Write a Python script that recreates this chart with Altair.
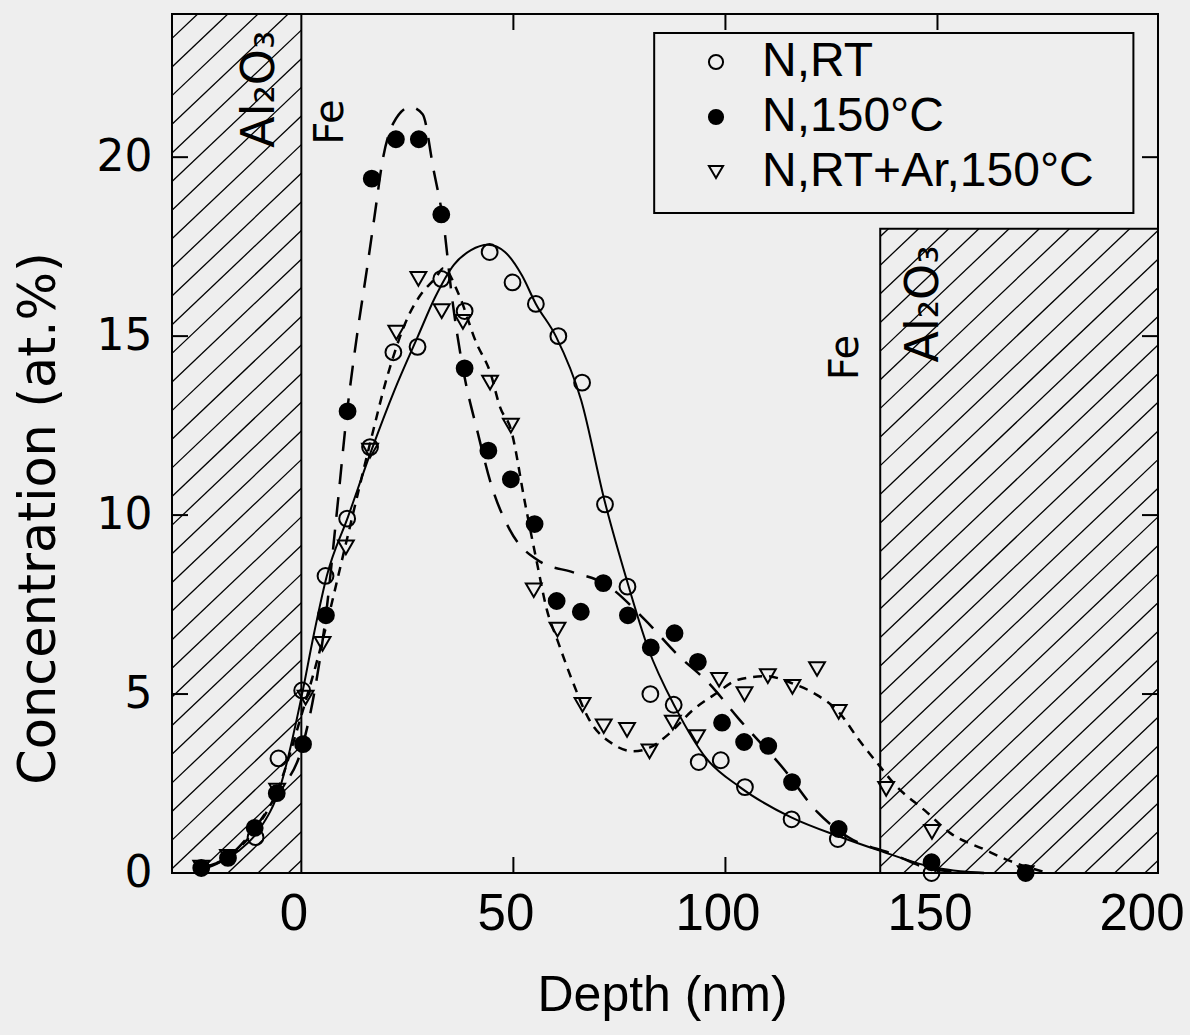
import altair as alt
import pandas as pd

# ---------------- data ----------------
series_names = ["N,RT", "N,150°C", "N,RT+Ar,150°C"]

# N,RT  (open circles)
rt_x = [-10.8, -5.4, 0.2, 5.7, 10.8, 16.2, 21.7, 27.4, 33.0, 38.5, 44.4, 49.8, 55.3,
        60.6, 66.2, 71.6, 76.9, 82.3, 87.8, 93.7, 98.9, 104.6, 115.6, 126.5, 148.6]
rt_y = [1.0, 3.2, 5.1, 8.3, 9.9, 11.9, 14.55, 14.7, 16.6, 15.7, 17.35, 16.5, 15.9,
        15.0, 13.7, 10.3, 8.0, 5.0, 4.7, 3.1, 3.15, 2.4, 1.5, 0.95, 0.0]

# N,150 C  (filled circles)
hot_x = [-23.6, -17.3, -11.0, -5.8, 0.4, 5.8, 10.9, 16.6, 22.3, 27.7, 33.0, 38.5, 44.1,
         49.4, 55.0, 60.2, 65.9, 71.2, 77.0, 82.4, 88.0, 93.5, 99.2, 104.4, 110.1, 115.7,
         126.7, 148.6, 170.8]
hot_y = [0.14, 0.42, 1.26, 2.23, 3.6, 7.2, 12.9, 19.4, 20.5, 20.5, 18.4, 14.1, 11.8,
         11.0, 9.75, 7.6, 7.3, 8.1, 7.2, 6.3, 6.7, 5.9, 4.2, 3.66, 3.55, 2.54,
         1.23, 0.3, 0.0]

# N,RT+Ar,150 C  (open down-triangles)
tri_x = [-23.6, -17.3, -5.7, 1.0, 5.0, 10.5, 16.2, 22.4, 27.6, 33.1, 38.1, 44.5, 49.4,
         54.8, 60.4, 66.3, 71.3, 76.8, 82.1, 87.6, 93.3, 98.5, 104.5, 110.0, 115.8, 121.6,
         126.7, 137.9, 148.7, 170.8]
tri_y = [0.15, 0.45, 2.3, 4.9, 6.4, 9.1, 11.8, 15.1, 16.6, 15.7, 15.4, 13.7, 12.5,
         7.9, 6.8, 4.7, 4.1, 4.0, 3.4, 4.2, 3.8, 5.4, 5.0, 5.5, 5.2, 5.7,
         4.5, 2.35, 1.15, 0.0]

# fitted curves
sol_x = [-25, -20, -15, -10, -5, 0, 3, 6, 11, 16.5, 22, 27.5, 31.6, 36, 40, 44, 48, 52,
         55.3, 60, 66, 71.5, 76.7, 81.7, 88.3, 95.5, 103.4, 115.4, 127.3, 136, 148.6, 161]
sol_y = [0.05, 0.25, 0.6, 1.2, 2.4, 4.9, 6.7, 8.3, 9.95, 11.8, 13.5, 15.0, 16.1, 17.0,
         17.4, 17.55, 17.35, 16.7, 15.9, 15.0, 13.2, 10.4, 8.2, 6.3, 4.6, 3.2, 2.4, 1.56,
         1.0, 0.64, 0.17, 0.0]

ld_x = [-23.6, -17.3, -11, -5.7, 0.4, 3, 5.8, 8.3, 10.8, 13.1, 15.5, 17.2, 19.3, 21.7,
        25.7, 28.6, 31.1, 33.7, 35.4, 38.1, 41.6, 44.9, 49.1, 56.3, 64.1, 71.3, 80.8,
        88.7, 96.1, 103.2, 113.8, 121.7, 129, 139, 149, 161]
ld_y = [0.14, 0.45, 1.25, 2.2, 3.6, 5.0, 7.2, 10.0, 12.9, 15.0, 16.9, 18.3, 20.0, 20.95,
        21.4, 21.2, 19.7, 18.0, 16.2, 14.1, 12.3, 10.8, 9.6, 8.7, 8.4, 8.1, 7.1,
        6.1, 5.3, 4.3, 2.9, 1.7, 1.0, 0.55, 0.1, 0.0]

sd_x = [-23.6, -17.3, -11, -5.7, 0, 5, 10.5, 16.4, 20.2, 25.4, 27.8, 31.8, 33.5, 37,
        41.3, 44.5, 46.9, 49.4, 52.8, 55.5, 57.9, 60.4, 63.8, 67.8, 73.5, 78.3, 82.1,
        86.8, 92.3, 97.6, 103, 109.5, 115.8, 121.2, 126.7, 131.6, 135.6, 140.5, 147,
        153.2, 161.2, 166.6, 176]
sd_y = [0.15, 0.45, 1.2, 2.3, 4.4, 6.5, 9.2, 12.1, 13.85, 15.6, 16.1, 16.65, 16.9, 16.2,
        14.8, 14.0, 13.0, 12.4, 10.3, 8.7, 7.35, 6.5, 5.4, 4.3, 3.6, 3.4, 3.5,
        3.9, 4.55, 5.0, 5.4, 5.5, 5.3, 5.0, 4.5, 3.7, 3.1, 2.4, 1.75,
        1.1, 0.65, 0.36, 0.0]

# layer names written inside the plot
fe_text = ["Fe", "Fe"]
fe_x = [7.1, 128.4]
fe_y = [20.98, 14.4]
oxide_text = ["Al₂O₃", "Al₂O₃"]
oxide_x = [-9.8, 146.8]
oxide_y = [21.9, 15.9]

x_tick_values = [0, 50, 100, 150, 200]
y_tick_values = [0, 5, 10, 15, 20]

# ---------------- layout constants ----------------
X_DOMAIN = [-30.5, 202.0]
Y_DOMAIN = [0, 24]
FE_LEFT = 0.0
FE_RIGHT = 136.5
AL_RIGHT_TOP = 18.0
LEG_BOX = dict(x=83.2, x2=196.2, y=18.44, y2=23.47)
BG = "#eeeeee"

xs = alt.Scale(domain=X_DOMAIN, nice=False, zero=False)
ys = alt.Scale(domain=Y_DOMAIN, nice=False, zero=False)

x_axis = alt.Axis(values=x_tick_values, ticks=False, domain=False, grid=False,
                  labelFont="Liberation Sans", labelFontSize=51, labelPadding=16,
                  labelOffset=-8,
                  labelColor="black", labelOverlap=False, labelFlush=False,
                  title="Depth (nm)", titleFont="Liberation Sans", titleFontSize=50,
                  titleFontWeight="normal", titleColor="black", titleX=490, titleY=137,
                  titleAlign="center", titleBaseline="alphabetic")
y_axis = alt.Axis(values=y_tick_values, ticks=False, domain=False, grid=False,
                  labelFont="DejaVu Sans", labelFontSize=44, labelPadding=20,
                  labelColor="black", labelOverlap=False, labelFlush=False,
                  title="Concentration (at.%)", titleFont="DejaVu Sans", titleFontSize=51,
                  titleFontWeight="normal", titleColor="black", titleAngle=270,
                  titleX=-118, titleY=504, titleAlign="center", titleBaseline="alphabetic")


def X(f="x"):
    return alt.X(f"{f}:Q", scale=xs, axis=x_axis)


def Y(f="y"):
    return alt.Y(f"{f}:Q", scale=ys, axis=y_axis)


# hatch lines (decoration) computed for each substrate region
def hatch_segments(x0, x1, y0, y1, slope=0.1125, step=0.80, phase=0.35):
    rows = []
    c = y0 - slope * (x1 - x0) + phase
    while c < y1:
        xa = max(x0, x0 + (y0 - c) / slope)
        xb = min(x1, x0 + (y1 - c) / slope)
        if xb > xa:
            rows.append({"x": xa, "y": slope * (xa - x0) + c,
                         "x2": xb, "y2": slope * (xb - x0) + c})
        c += step
    return rows


hatch_df = pd.DataFrame(
    hatch_segments(X_DOMAIN[0], FE_LEFT, 0, Y_DOMAIN[1])
    + hatch_segments(FE_RIGHT, X_DOMAIN[1], 0, AL_RIGHT_TOP)
)
hatch = alt.Chart(hatch_df).mark_rule(color="black", strokeWidth=1.3).encode(
    x=X("x"), y=Y("y"), x2="x2:Q", y2="y2:Q")

regions_df = pd.DataFrame({
    "x": [X_DOMAIN[0], FE_RIGHT], "x2": [FE_LEFT, X_DOMAIN[1]],
    "y": [0, 0], "y2": [Y_DOMAIN[1], AL_RIGHT_TOP]})
regions = alt.Chart(regions_df).mark_rect(filled=False, stroke="black", strokeWidth=2).encode(
    x=X("x"), x2="x2:Q", y=Y("y"), y2="y2:Q")


def curve(xv, yv, dash, width):
    df = pd.DataFrame({"x": xv, "y": yv})
    kw = dict(color="black", strokeWidth=width, interpolate="monotone")
    if dash:
        kw["strokeDash"] = dash
    return alt.Chart(df).mark_line(**kw).encode(x=X("x"), y=Y("y"), order="x:Q")


solid = curve(sol_x, sol_y, None, 2)
longdash = curve(ld_x, ld_y, [20, 13], 2.5)
shortdash = curve(sd_x, sd_y, [9, 7], 2.5)

pts_df = pd.DataFrame({
    "x": rt_x + hot_x + tri_x,
    "y": rt_y + hot_y + tri_y,
    "series": [series_names[0]] * len(rt_x) + [series_names[1]] * len(hot_x)
              + [series_names[2]] * len(tri_x),
})

leg = alt.Legend(title=None, orient="none", legendX=520, legendY=24, padding=0,
                 labelFont="Liberation Sans", labelFontSize=48, labelColor="black",
                 symbolSize=200, symbolStrokeWidth=2,
                 rowPadding=7, labelOffset=22, labelLimit=700)

points = alt.Chart(pts_df).mark_point(filled=True, size=250, strokeWidth=2, opacity=1).encode(
    x=X("x"),
    y=Y("y"),
    shape=alt.Shape("series:N", sort=series_names, legend=leg,
                    scale=alt.Scale(domain=series_names,
                                    range=["circle", "circle", "triangle-down"])),
    fill=alt.Fill("series:N", sort=series_names, legend=leg,
                  scale=alt.Scale(domain=series_names,
                                  range=["transparent", "black", "transparent"])),
    stroke=alt.Stroke("series:N", sort=series_names, legend=leg,
                      scale=alt.Scale(domain=series_names,
                                      range=["black", "black", "black"])),
)

legbox = alt.Chart(pd.DataFrame([LEG_BOX])).mark_rect(
    fill=BG, stroke="black", strokeWidth=2).encode(
    x=X("x"), x2="x2:Q", y=Y("y"), y2="y2:Q")

fe_labels = alt.Chart(pd.DataFrame({"x": fe_x, "y": fe_y, "t": fe_text})).mark_text(
    angle=270, font="DejaVu Sans", fontSize=40, color="black",
    align="center", baseline="middle").encode(x=X("x"), y=Y("y"), text="t:N")
oxide_labels = alt.Chart(pd.DataFrame({"x": oxide_x, "y": oxide_y, "t": oxide_text})).mark_text(
    angle=270, font="DejaVu Sans", fontSize=46, color="black",
    align="center", baseline="middle").encode(x=X("x"), y=Y("y"), text="t:N")

# inward ticks on all four sides (half of each tick is clipped away)
tx = [v for v in x_tick_values if 0 < v < X_DOMAIN[1] - 5]
ty = [v for v in y_tick_values if v > 0]
xt_df = pd.DataFrame({"x": tx * 2, "y": [Y_DOMAIN[0]] * len(tx) + [Y_DOMAIN[1]] * len(tx)})
yt_df = pd.DataFrame({"y": ty * 2, "x": [X_DOMAIN[0]] * len(ty) + [X_DOMAIN[1]] * len(ty)})
xticks = alt.Chart(xt_df).mark_tick(orient="vertical", size=32, thickness=2,
                                    color="black", clip=True, opacity=1).encode(
    x=X("x"), y=Y("y"))
yticks = alt.Chart(yt_df).mark_tick(orient="horizontal", size=32, thickness=2,
                                    color="black", clip=True, opacity=1).encode(
    x=X("x"), y=Y("y"))

chart = alt.layer(
    hatch, regions, solid, longdash, shortdash, points, legbox,
    fe_labels, oxide_labels, xticks, yticks
).properties(
    width=986, height=859,
    autosize=alt.AutoSizeParams(type="none"),
    padding={"left": 172, "top": 14, "right": 32, "bottom": 162},
    background=BG,
).configure_view(stroke="black", strokeWidth=2)

chart.save("out.html", embed_options={"renderer": "svg", "actions": False})
